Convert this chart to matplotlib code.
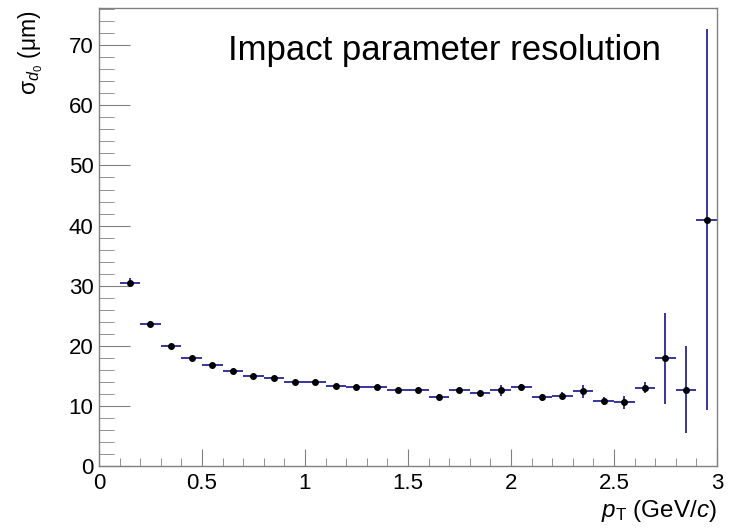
import numpy as np
import matplotlib.pyplot as plt
from matplotlib.ticker import MultipleLocator

# === Data ===
pt_centers = [0.15, 0.25, 0.35, 0.45, 0.55, 0.65, 0.75, 0.85, 0.95, 1.05,
              1.15, 1.25, 1.35, 1.45, 1.55, 1.65, 1.75, 1.85, 1.95, 2.05,
              2.15, 2.25, 2.35, 2.45, 2.55, 2.65, 2.75, 2.85, 2.95]
pt_halfwidth = [0.05] * 29
sigma_d0 = [30.5, 23.6, 20.0, 18.0, 16.8, 15.8, 15.0, 14.6, 14.0, 14.0,
            13.3, 13.2, 13.2, 12.6, 12.7, 11.5, 12.6, 12.2, 12.6, 13.2,
            11.4, 11.7, 12.4, 10.8, 10.6, 13.0, 17.9, 12.7, 41.0]
sigma_err = [0.8, 0.5, 0.3, 0.3, 0.3, 0.3, 0.3, 0.3, 0.3, 0.3,
             0.3, 0.3, 0.3, 0.3, 0.3, 0.4, 0.4, 0.5, 0.9, 0.5,
             0.6, 0.6, 1.1, 0.6, 1.1, 0.9, 7.6, 7.2, 31.7]

plt.rcParams['font.family'] = ['Liberation Sans', 'DejaVu Sans']
plt.rcParams['mathtext.fontset'] = 'custom'
plt.rcParams['mathtext.rm'] = 'Liberation Sans'
plt.rcParams['mathtext.it'] = 'Liberation Sans:italic'

fig = plt.figure(figsize=(7.29, 5.29), dpi=100)
ax = fig.add_axes([0.1358, 0.1191, 0.8477, 0.8658])

ax.errorbar(pt_centers, sigma_d0, xerr=pt_halfwidth, yerr=sigma_err,
            fmt='o', color='black', markersize=4,
            ecolor='#000080', elinewidth=1.1, capsize=0, clip_on=False)

ax.set_xlim(0, 3)
ax.set_ylim(0, 76.2)
ax.xaxis.set_minor_locator(MultipleLocator(0.1))
ax.yaxis.set_major_locator(MultipleLocator(10))
ax.yaxis.set_minor_locator(MultipleLocator(2))
ax.set_xticks([0, 0.5, 1, 1.5, 2, 2.5, 3])
ax.set_xticklabels(['0', '0.5', '1', '1.5', '2', '2.5', '3'])

frame_col = '#808080'
for sp in ax.spines.values():
    sp.set_color(frame_col)
    sp.set_linewidth(1.0)

ax.tick_params(axis='both', which='both', direction='in', color=frame_col,
               labelsize=16, top=False, right=False)
ax.tick_params(axis='x', which='major', length=12, pad=5)
ax.tick_params(axis='x', which='minor', length=6)
ax.tick_params(axis='y', which='major', length=22, pad=4)
ax.tick_params(axis='y', which='minor', length=11)

ax.set_xlabel(r'$p_{\mathrm{T}}$ (GeV/$c$)', fontsize=17.5, loc='right')
ax.xaxis.set_label_coords(1.0, -0.07)
ax.set_ylabel(r'σ$_{d_{0}}$ (μm)', fontsize=16.5, loc='top')
ax.yaxis.set_label_coords(-0.088, 0.995)

ax.text(0.2086, 0.944, 'Impact parameter resolution', transform=ax.transAxes,
        fontsize=25, ha='left', va='top')

fig.savefig('out.png', dpi=100)
